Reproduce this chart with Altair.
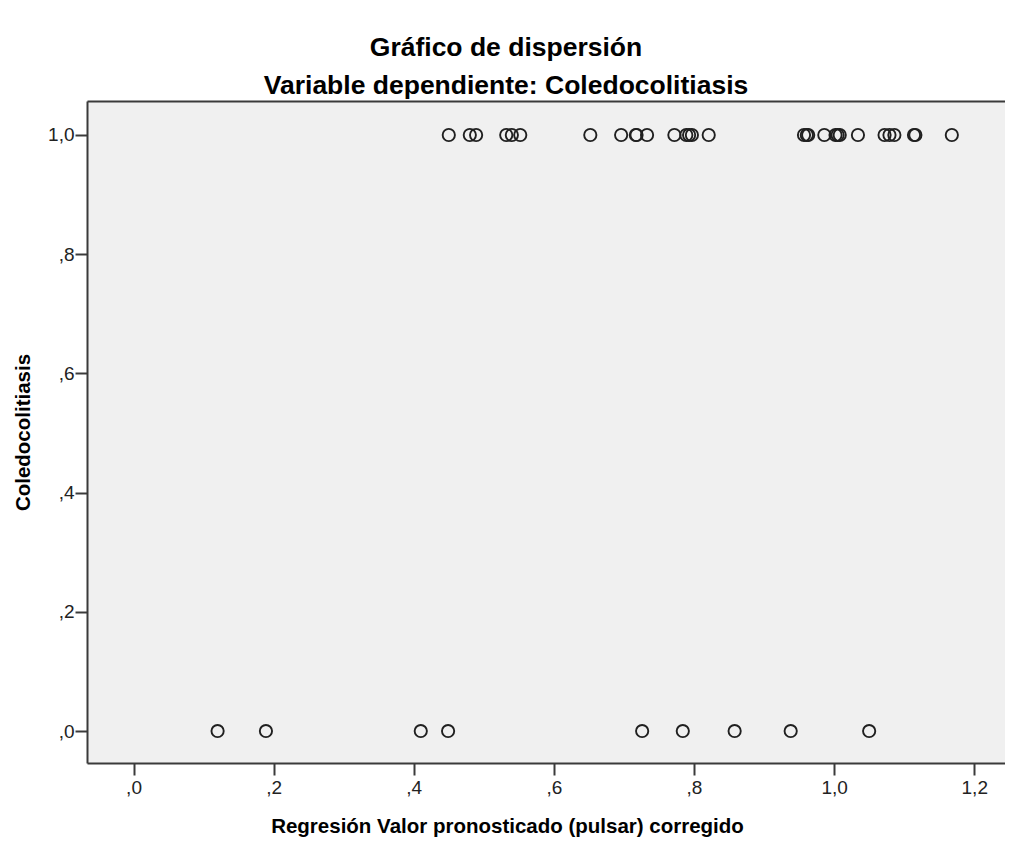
import altair as alt
import pandas as pd

# Predicted values (x) for observations with Coledocolitiasis = 1
x_top = [0.450, 0.480, 0.489, 0.532, 0.540, 0.552, 0.652, 0.696, 0.717, 0.718,
         0.733, 0.772, 0.789, 0.793, 0.797, 0.821, 0.957, 0.961, 0.963, 0.986,
         1.002, 1.005, 1.008, 1.034, 1.072, 1.079, 1.086, 1.114, 1.116, 1.168]
# Predicted values (x) for observations with Coledocolitiasis = 0
x_bottom = [0.120, 0.189, 0.410, 0.449, 0.726, 0.784, 0.858, 0.938, 1.050]

x_ticks = [0.0, 0.2, 0.4, 0.6, 0.8, 1.0, 1.2]
y_ticks = [0.0, 0.2, 0.4, 0.6, 0.8, 1.0]

df = pd.DataFrame({
    "x": x_top + x_bottom,
    "y": [1.0] * len(x_top) + [0.0] * len(x_bottom),
})

FONT = "Liberation Sans"
AXIS_COL = "#3a3a3a"
label_expr = ("datum.value < 1 ? replace(format(datum.value, '.1f'), '0.', ',') "
              ": replace(format(datum.value, '.1f'), '.', ',')")

x_scale = alt.Scale(domain=[-0.0664, 1.2439], nice=False, zero=False)
y_scale = alt.Scale(domain=[-0.0536, 1.057], nice=False, zero=False)

points = alt.Chart(df).mark_point(
    shape="circle", filled=False, size=150, strokeWidth=1.9, color="#202020", opacity=1
).encode(
    x=alt.X("x:Q", scale=x_scale,
            axis=alt.Axis(values=x_ticks, labelExpr=label_expr, grid=False,
                          title="Regresión Valor pronosticado (pulsar) corregido",
                          titleX=420, titleY=69, titleAlign="center",
                          titleBaseline="alphabetic",
                          tickSize=12, tickWidth=2, tickColor=AXIS_COL,
                          domainColor=AXIS_COL, domainWidth=2,
                          labelFontSize=19, labelFont=FONT, labelColor="#222222",
                          labelPadding=3, titleFontSize=20.5, titleFont=FONT,
                          titleFontWeight="bold", titleColor="#000000")),
    y=alt.Y("y:Q", scale=y_scale,
            axis=alt.Axis(values=y_ticks, labelExpr=label_expr, grid=False,
                          title="Coledocolitiasis",
                          titleX=-58, titleY=331, titleAlign="center",
                          titleBaseline="alphabetic", titleAngle=270,
                          tickSize=12, tickWidth=2, tickColor=AXIS_COL,
                          domainColor=AXIS_COL, domainWidth=2,
                          labelFontSize=19, labelFont=FONT, labelColor="#222222",
                          labelPadding=1, titleFontSize=20.5, titleFont=FONT,
                          titleFontWeight="bold", titleColor="#000000")),
)

frame_top = alt.Chart(df).mark_point(opacity=0).encode(
    x=alt.X("x:Q", scale=x_scale,
            axis=alt.Axis(orient="top", labels=False, ticks=False, title=None,
                          grid=False, domainColor=AXIS_COL, domainWidth=2)),
    y=alt.Y("y:Q", scale=y_scale),
)

chart = alt.layer(points, frame_top).resolve_axis(x="independent").properties(
    width=918,
    height=662,
    view=alt.ViewBackground(fill="#f0f0f0", stroke=None),
    autosize=alt.AutoSizeParams(type="none"),
    padding={"left": 79, "top": 93, "right": 0, "bottom": 74},
    title=alt.TitleParams(
        text="Gráfico de dispersión",
        subtitle="Variable dependiente: Coledocolitiasis",
        anchor="middle", frame="bounds", dx=-3,
        font=FONT, fontSize=26.5, fontWeight="bold", color="#000000",
        subtitleFont=FONT, subtitleFontSize=26.5, subtitleFontWeight="bold",
        subtitleColor="#000000", subtitlePadding=11, offset=2,
    ),
).configure(background="white")

chart.save("out.html", embed_options={"renderer": "svg", "actions": False})
